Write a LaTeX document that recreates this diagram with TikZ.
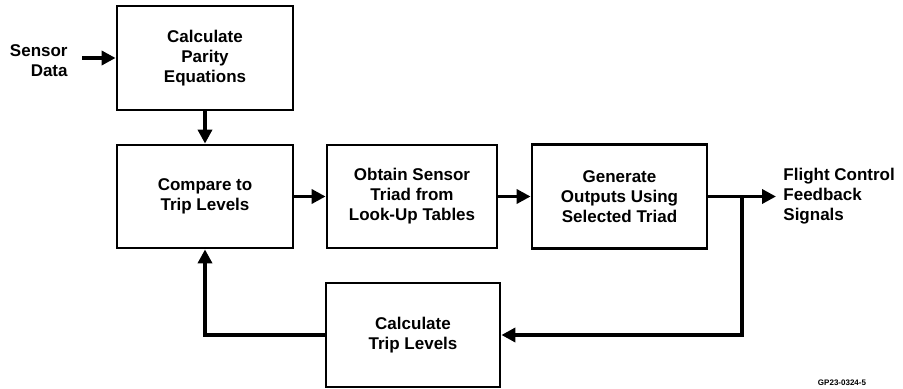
\documentclass[tikz,border=0pt]{standalone}
\usepackage{fontspec}
\setmainfont{Liberation Sans}
\usetikzlibrary{arrows.meta}

\begin{document}
\begin{tikzpicture}[x=.5pt,y=-.5pt,
  blk/.style={draw,line width=1.4pt,inner sep=0,align=center,
    font=\fontsize{8.5}{10}\selectfont\bfseries},
  txt/.style={inner sep=0,font=\fontsize{8.5}{10}\selectfont\bfseries},
  flow/.style={-{Triangle[length=7pt,width=7pt]},line width=1.9pt}]
\useasboundingbox (0,0) rectangle (903,389);
% boxes
\node[blk,minimum width=88pt,minimum height=52pt] (parity) at (205,58) {Calculate\\Parity\\Equations};
\node[blk,minimum width=88pt,minimum height=51.5pt] (compare) at (205,196.5) {Compare to\\Trip Levels};
\node[blk,minimum width=85pt,minimum height=51.5pt] (triad) at (412,196.5) {Obtain Sensor\\Triad from\\Look-Up Tables};
\node[blk,minimum width=87.5pt,minimum height=52pt] (outputs) at (619.5,196.5) {Generate\\Outputs Using\\Selected Triad};
\node[blk,minimum width=87pt,minimum height=52pt] (trip) at (413,335) {Calculate\\Trip Levels};
% in and out
\node[txt,align=right,anchor=east] (sensor) at (68,61) {Sensor\\Data};
\coordinate (src) at (82,58);
\node[txt,align=left,anchor=west] (flight) at (783,196.5) {Flight Control\\Feedback\\Signals};
\coordinate (sink) at (776,196.5);
\coordinate (tap) at (742,196.5);
\node[inner sep=0,font=\fontsize{4}{4}\selectfont\bfseries] (tag) at (842,383) {GP23-0324-5};
% connectors
\draw[flow] (src) -- (src -| parity.west);
\draw[flow] (parity) -- (compare);
\foreach \a/\b in {compare/triad,triad/outputs}
  \draw[flow] (\a) -- (\b);
\draw[flow] (outputs) -- (sink);
\draw[flow] (tap) |- (trip);
\draw[flow] (trip) -| (compare);
\end{tikzpicture}
\end{document}
